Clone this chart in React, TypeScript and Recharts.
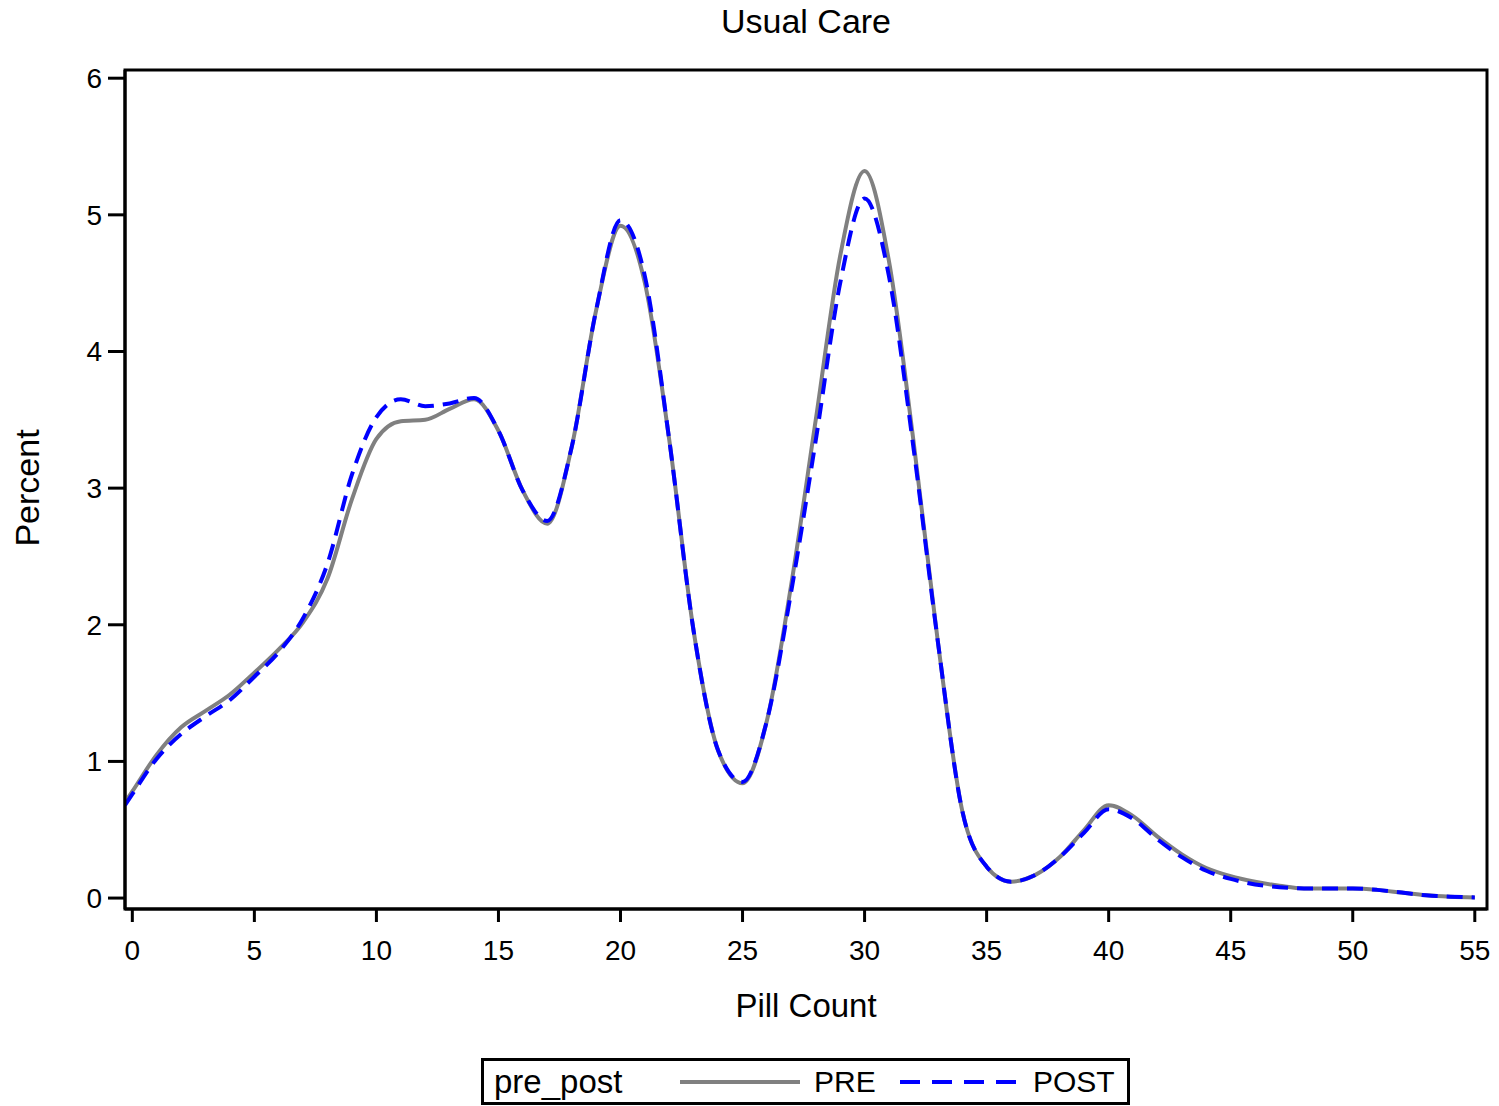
import { LineChart, Line, XAxis, YAxis, ReferenceArea, Legend } from "recharts";

const pillCount = [-0.3, 0, 1, 2, 3, 4, 5, 6, 7, 8, 9, 10, 11, 12, 13, 14, 15, 16, 17, 18, 19, 20, 21, 22, 23, 24, 25, 26, 27, 28, 29, 30, 31, 32, 33, 34, 35, 36, 37, 38, 39, 40, 41, 42, 43, 44, 45, 46, 47, 48, 49, 50, 51, 52, 53, 54, 55];

const prePercent = [0.7, 0.78, 1.05, 1.25, 1.37, 1.49, 1.65, 1.82, 2.02, 2.34, 2.92, 3.36, 3.49, 3.5, 3.58, 3.65, 3.42, 2.98, 2.74, 3.3, 4.3, 4.92, 4.5, 3.35, 1.95, 1.08, 0.84, 1.3, 2.3, 3.5, 4.7, 5.32, 4.66, 3.35, 1.88, 0.64, 0.23, 0.12, 0.17, 0.3, 0.5, 0.68, 0.6, 0.45, 0.32, 0.22, 0.16, 0.12, 0.09, 0.07, 0.07, 0.07, 0.06, 0.04, 0.02, 0.01, 0.005];

const postPercent = [0.68, 0.76, 1.02, 1.2, 1.33, 1.45, 1.62, 1.8, 2.05, 2.45, 3.1, 3.52, 3.65, 3.6, 3.62, 3.66, 3.42, 2.98, 2.76, 3.3, 4.3, 4.96, 4.55, 3.35, 1.95, 1.08, 0.85, 1.3, 2.25, 3.35, 4.5, 5.12, 4.55, 3.3, 1.88, 0.64, 0.23, 0.12, 0.17, 0.3, 0.48, 0.65, 0.58, 0.43, 0.3, 0.2, 0.14, 0.1, 0.08, 0.07, 0.07, 0.07, 0.06, 0.04, 0.02, 0.01, 0.005];

const xTicks = [0, 5, 10, 15, 20, 25, 30, 35, 40, 45, 50, 55];
const yTicks = [0, 1, 2, 3, 4, 5, 6];

const data = pillCount.map((x, i) => ({ x, pre: prePercent[i], post: postPercent[i] }));

const FONT = "'Liberation Sans', Arial, sans-serif";
const GRAY = "#808080";
const BLUE = "#0000ff";

const renderLegend = () => (
  <div
    style={{
      boxSizing: "border-box",
      width: 649,
      height: 47,
      border: "3px solid #000",
      display: "flex",
      alignItems: "center",
      fontFamily: FONT,
      color: "#000",
    }}
  >
    <span style={{ fontSize: 33, marginLeft: 10, width: 186 }}>pre_post</span>
    <svg width={120} height={10}>
      <line x1={0} y1={5} x2={120} y2={5} stroke={GRAY} strokeWidth={4} />
    </svg>
    <span style={{ fontSize: 30, marginLeft: 14, width: 86 }}>PRE</span>
    <svg width={116} height={10}>
      <line x1={0} y1={5} x2={116} y2={5} stroke={BLUE} strokeWidth={4} strokeDasharray="20 12" />
    </svg>
    <span style={{ fontSize: 30, marginLeft: 17 }}>POST</span>
  </div>
);

export default function App() {
  return (
    <div style={{ position: "absolute", left: 0, top: 0, width: 1499, height: 1106, background: "#fff", fontFamily: FONT }}>
      <div style={{ position: "absolute", left: 0, width: 1612, top: 2, textAlign: "center", fontSize: 34, color: "#000" }}>
        Usual Care
      </div>
      <div style={{ position: "absolute", left: 0, width: 1612, top: 987, textAlign: "center", fontSize: 33, color: "#000" }}>
        Pill Count
      </div>
      <div
        style={{
          position: "absolute",
          left: 27,
          top: 488,
          fontSize: 34,
          color: "#000",
          transform: "translate(-50%, -50%) rotate(-90deg)",
          whiteSpace: "nowrap",
        }}
      >
        Percent
      </div>
      <LineChart width={1499} height={1106} data={data} margin={{ top: 70, right: 12, bottom: 0, left: 0 }}>
        <XAxis
          dataKey="x"
          type="number"
          domain={[-0.3, 55.5]}
          ticks={xTicks}
          allowDataOverflow
          height={150}
          tickSize={13}
          tickMargin={18}
          axisLine={{ stroke: "#000", strokeWidth: 3 }}
          tickLine={{ stroke: "#000", strokeWidth: 3 }}
          tick={{ fill: "#000", fontSize: 28, fontFamily: FONT }}
        />
        <YAxis
          type="number"
          domain={[-0.08, 6.06]}
          ticks={yTicks}
          allowDataOverflow
          width={125}
          tickSize={17}
          tickMargin={6}
          axisLine={{ stroke: "#000", strokeWidth: 3 }}
          tickLine={{ stroke: "#000", strokeWidth: 3 }}
          tick={{ fill: "#000", fontSize: 28, fontFamily: FONT }}
        />
        <ReferenceArea x1={-0.3} x2={55.5} y1={-0.08} y2={6.06} fill="none" stroke="#000" strokeWidth={3} ifOverflow="visible" />
        <Line type="monotone" dataKey="pre" name="PRE" stroke={GRAY} strokeWidth={4} dot={false} isAnimationActive={false} />
        <Line type="monotone" dataKey="post" name="POST" stroke={BLUE} strokeWidth={4} strokeDasharray="16 9" dot={false} isAnimationActive={false} />
        <Legend content={renderLegend} wrapperStyle={{ left: 481, top: 1058, width: 649, height: 47, bottom: "auto" }} />
      </LineChart>
    </div>
  );
}
